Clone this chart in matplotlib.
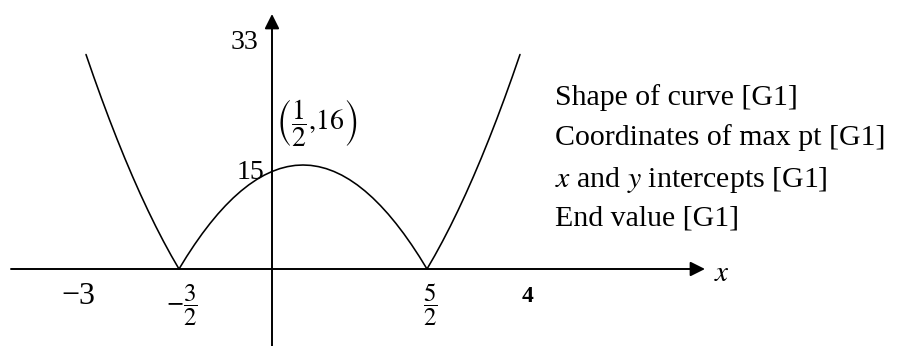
import numpy as np
import matplotlib
matplotlib.use("Agg")
import matplotlib.pyplot as plt

plt.rcParams['font.family'] = ['Liberation Serif', 'DejaVu Serif']
plt.rcParams['mathtext.fontset'] = 'stix'

# Data: y = |(2x+3)(5-2x)|, x from -3 to 4 in steps of 1/8
x_start, x_end = -3, 4
y_vals = [33, 29.56, 26.25, 23.06, 20, 17.06, 14.25, 11.56, 9, 6.56, 4.25, 2.06, 0,
          1.94, 3.75, 5.44, 7, 8.44, 9.75, 10.94, 12, 12.94, 13.75, 14.44, 15, 15.44,
          15.75, 15.94, 16, 15.94, 15.75, 15.44, 15, 14.44, 13.75, 12.94, 12, 10.94,
          9.75, 8.44, 7, 5.44, 3.75, 1.94, 0, 2.06, 4.25, 6.56, 9, 11.56, 14.25, 17.06,
          20, 23.06, 26.25, 29.56, 33]
x_vals = np.linspace(x_start, x_end, len(y_vals))

x_tick_vals = [-3, -1.5, 2.5, 4]
x_tick_labels = ['\u22123', r'$-\dfrac{3}{2}$', r'$\dfrac{5}{2}$', '4']
y_tick_vals = [33, 15]
y_tick_labels = ['33', '15']
max_pt = (0.5, 16)
max_label = r'$\left(\dfrac{1}{2}{,}16\right)$'
notes = ['Shape of curve [G1]', 'Coordinates of max pt [G1]',
         r'$x$ and $y$ intercepts [G1]', 'End value [G1]']

W, H = 898, 346
fig = plt.figure(figsize=(W / 100, H / 100), dpi=100)
ax = fig.add_axes([0, 0, 1, 1])
ox, oy = 272, 269          # pixel origin
sx, sy = 62, 6.5           # pixels per unit
ax.set_xlim(-ox / sx, (W - ox) / sx)
ax.set_ylim(-(H - oy) / sy, oy / sy)
ax.axis('off')

def px(xp, yp):
    return ((xp - ox) / sx, (oy - yp) / sy)

# axes with arrows
ax.annotate('', xy=px(705, oy), xytext=px(11, oy),
            arrowprops=dict(arrowstyle='-|>', mutation_scale=22, lw=1.4, color='black',
                            shrinkA=0, shrinkB=0))
ax.annotate('', xy=px(ox, 14), xytext=px(ox, H),
            arrowprops=dict(arrowstyle='-|>', mutation_scale=22, lw=1.4, color='black',
                            shrinkA=0, shrinkB=0))

ax.plot(x_vals, y_vals, color='black', lw=1.15, solid_capstyle='round')

# x tick labels
for xv, lab in zip(x_tick_vals, x_tick_labels):
    if 'frac' in lab:
        ax.text(xv + 0.05, px(0, 305)[1], lab, ha='center', va='center', fontsize=18)
    elif xv < 0:
        ax.text(px(78, 0)[0], px(0, 296)[1], lab, ha='center', va='center', fontsize=23)
    else:
        ax.text(xv + 0.12, px(0, 297)[1], lab, ha='center', va='center', fontsize=17,
                fontweight='bold')

# y tick labels
ax.text(px(258, 0)[0], 34.8, y_tick_labels[0], ha='right', va='center', fontsize=20)
ax.text(px(264, 0)[0], 14.8, y_tick_labels[1], ha='right', va='center', fontsize=20)

# max point label
ax.text(px(317, 0)[0], px(0, 123)[1], max_label, ha='center', va='center', fontsize=20)

# axis label
fig.text(722 / W, 1 - 274 / H, r'$x$', ha='center', va='center', fontsize=21)

# notes
for i, s in enumerate(notes):
    yc = [98, 138, 180, 218][i]
    fig.text(555 / W, 1 - yc / H, s, ha='left', va='center', fontsize=21.5)

fig.savefig('out.png', dpi=100)
